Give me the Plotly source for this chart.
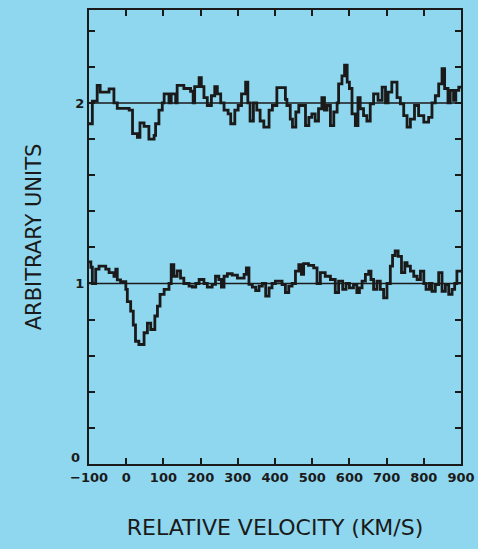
import plotly.graph_objects as go

# Upper spectrum (offset to 2): step start velocities (km/s) and values
vel_top = [-100, -91, -78, -70, -46, -33, -24, 8, 17, 30, 37, 48, 61, 75, 79, 88, 97, 102, 115, 121,
           133, 137, 155, 173, 180, 184, 196, 202, 209, 218, 229, 238, 245, 254, 263, 274, 281, 292,
           301, 310, 321, 327, 333, 342, 351, 360, 370, 384, 393, 405, 428, 432, 441, 447, 456, 464,
           482, 491, 499, 508, 517, 526, 533, 540, 549, 558, 567, 571, 580, 587, 594, 600, 607, 616,
           623, 629, 638, 647, 656, 665, 677, 688, 697, 704, 714, 728, 737, 746, 755, 764, 775, 786,
           800, 813, 822, 831, 840, 849, 856, 865, 871, 880, 886, 894, 900]
flux_top = [1.885, 2.01, 2.097, 2.06, 2.078, 2.0, 1.97, 1.96, 1.83, 1.81, 1.89, 1.87, 1.80, 1.82, 1.885,
            1.96, 2.0, 2.05, 2.0, 2.05, 2.0, 2.097, 2.08, 2.065, 2.0, 2.09, 2.14, 2.09, 2.03, 1.986,
            2.04, 2.09, 2.05, 2.0, 1.96, 1.94, 1.885, 1.96, 1.986, 2.05, 2.115, 2.0, 1.90, 2.0, 1.96,
            1.90, 1.866, 1.96, 1.986, 2.085, 2.02, 1.986, 1.91, 1.866, 1.95, 1.986, 1.875, 1.92, 1.94,
            1.90, 1.968, 2.03, 1.96, 1.986, 1.875, 1.95, 2.0, 2.106, 2.15, 2.21, 2.115, 2.08, 1.94,
            1.875, 2.03, 1.968, 1.93, 1.90, 1.995, 2.05, 2.014, 2.088, 2.0, 2.06, 2.115, 2.03, 1.995,
            1.93, 1.866, 1.91, 1.986, 1.93, 1.894, 1.92, 2.0, 2.04, 2.106, 2.19, 2.08, 2.0, 2.07,
            2.014, 2.07, 2.088, 2.088]

# Lower spectrum (offset to 1)
vel_bot = [-100, -95, -91, -82, -73, -55, -46, -33, -28, -24, -15, -1, 3, 12, 19, 25, 34, 48, 57, 66,
           77, 84, 91, 102, 115, 121, 128, 137, 146, 155, 169, 178, 187, 196, 209, 218, 231, 240, 249,
           256, 263, 272, 285, 299, 317, 323, 330, 339, 348, 357, 366, 375, 384, 392, 401, 419, 428,
           437, 446, 455, 464, 471, 477, 490, 504, 513, 522, 535, 549, 562, 571, 582, 591, 600, 611,
           620, 627, 634, 643, 652, 658, 665, 674, 683, 692, 701, 710, 716, 723, 731, 740, 749, 755,
           764, 773, 782, 791, 800, 806, 815, 822, 831, 840, 849, 858, 867, 876, 883, 889, 900]
flux_bot = [1.12, 1.09, 1.0, 1.08, 1.096, 1.08, 1.06, 1.04, 1.08, 1.02, 1.01, 0.967, 0.90, 0.847, 0.77,
            0.68, 0.662, 0.727, 0.78, 0.745, 0.82, 0.875, 0.94, 0.967, 1.0, 1.105, 1.04, 1.07, 1.03,
            1.0, 0.985, 0.98, 1.0, 1.022, 1.0, 0.98, 0.995, 1.04, 1.022, 0.98, 1.04, 1.054, 1.046,
            1.03, 1.05, 1.087, 0.995, 0.98, 0.96, 0.985, 1.0, 0.93, 0.976, 1.0, 1.013, 0.994, 0.95,
            0.985, 1.0, 1.068, 1.105, 1.05, 1.11, 1.10, 1.087, 1.0, 1.06, 1.04, 1.022, 0.95, 1.013,
            0.967, 1.0, 0.976, 0.994, 0.95, 0.976, 1.013, 1.05, 1.068, 1.022, 0.967, 1.013, 0.967,
            0.92, 1.0, 1.096, 1.155, 1.18, 1.15, 1.06, 1.115, 1.096, 1.068, 1.04, 1.022, 1.068, 1.0,
            0.967, 1.0, 0.957, 0.994, 1.06, 0.957, 0.994, 0.94, 0.967, 1.0, 1.068, 1.068]

baselines = [1, 2]
x_ticks = [-100, 0, 100, 200, 300, 400, 500, 600, 700, 800, 900]
x_ticktext = ["\u2212100", "0", "100", "200", "300", "400", "500", "600", "700", "800", "900"]
y_ticks = [0, 0.2, 0.4, 0.6, 0.8, 1.0, 1.2, 1.4, 1.6, 1.8, 2.0, 2.2, 2.4]
y_ticktext = ["", "", "", "", "", "1", "", "", "", "", "2", "", ""]
y_zero_label = "0"

BG = "#8fd7ef"
INK = "#1a1a1a"
TICKFONT = dict(size=13, family="DejaVu Sans, sans-serif", weight="bold", color=INK)

fig = go.Figure()
for b in baselines:
    fig.add_trace(go.Scatter(x=[x_ticks[0], x_ticks[-1]], y=[b, b], mode="lines",
                             line=dict(color=INK, width=1.6), hoverinfo="skip", showlegend=False))
for v, f in [(vel_top, flux_top), (vel_bot, flux_bot)]:
    fig.add_trace(go.Scatter(x=v, y=f, mode="lines", line_shape="hv",
                             line=dict(color=INK, width=2.8), showlegend=False))

fig.add_annotation(text=y_zero_label, xref="paper", yref="y", x=0, y=0,
                   xanchor="right", yanchor="middle", xshift=-7, yshift=7,
                   showarrow=False, font=TICKFONT)

fig.update_layout(
    width=478, height=549, autosize=False,
    paper_bgcolor=BG, plot_bgcolor=BG,
    margin=dict(l=89, r=17, t=10, b=85),
    font=dict(family="DejaVu Sans, sans-serif", color=INK),
)
fig.update_xaxes(
    range=[-100, 900], tickvals=x_ticks, ticktext=x_ticktext, automargin=False,
    showgrid=False, zeroline=False, showline=True, linecolor=INK, linewidth=2,
    mirror="ticks", ticks="inside", ticklen=6, tickwidth=1.5, tickcolor=INK,
    tickfont=TICKFONT,
    title=dict(text="RELATIVE VELOCITY (KM/S)", font=dict(size=22), standoff=36),
)
fig.update_yaxes(
    range=[0, 2.515], tickvals=y_ticks, ticktext=y_ticktext, automargin=False,
    showgrid=False, zeroline=False, showline=True, linecolor=INK, linewidth=2,
    mirror="ticks", ticks="inside", ticklen=6, tickwidth=1.5, tickcolor=INK,
    tickfont=TICKFONT,
    title=dict(text="ARBITRARY UNITS", font=dict(size=21), standoff=28),
)

fig.write_html("out.html", config={"displayModeBar": False},
               post_script="document.body.style.margin='0';")
